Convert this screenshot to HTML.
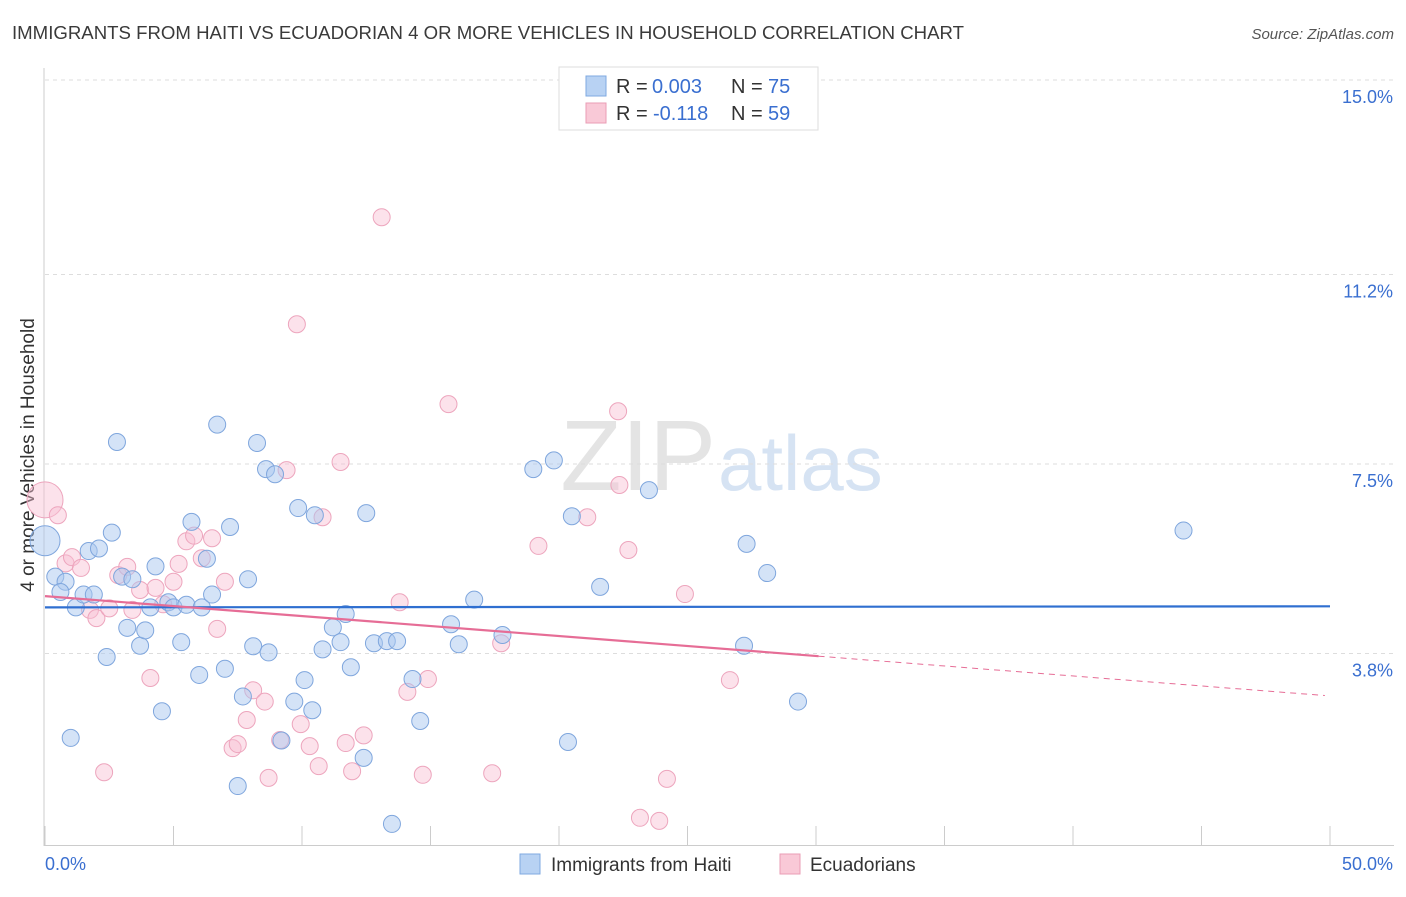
<!DOCTYPE html>
<html><head><meta charset="utf-8"><style>
body{margin:0;background:#fff;font-family:"Liberation Sans",sans-serif;}
svg text{font-family:"Liberation Sans",sans-serif;}
</style></head><body>
<svg id="c" width="1406" height="892" xmlns="http://www.w3.org/2000/svg">
<text x="12" y="39" font-size="18" textLength="952" lengthAdjust="spacingAndGlyphs" fill="#3a3a3a">IMMIGRANTS FROM HAITI VS ECUADORIAN 4 OR MORE VEHICLES IN HOUSEHOLD CORRELATION CHART</text>
<text x="1394" y="39" font-size="15" fill="#555" font-style="italic" text-anchor="end">Source: ZipAtlas.com</text>
<text x="716" y="490" font-size="100" fill="#e4e4e4" text-anchor="end" font-family="Liberation Serif">ZIP</text>
<text x="718" y="490" font-size="78" fill="#d6e3f3">atlas</text>
<g id="grid"></g>
<g id="axes"></g>
<text transform="translate(34,455) rotate(-90)" font-size="19" fill="#333" text-anchor="middle">4 or more Vehicles in Household</text>
<g id="pts"></g>
<g id="lines"></g>
<g>
<rect x="559" y="67" width="259" height="63" fill="#fff" stroke="#ddd"/>
<rect x="586" y="76" width="20" height="20" fill="#b8d2f3" stroke="#7fa9e0"/>
<rect x="586" y="103" width="20" height="20" fill="#f9c9d7" stroke="#ea9db5"/>
<text x="616" y="93" font-size="20" fill="#333">R =</text>
<text x="652" y="93" font-size="20" fill="#3a6fd0">0.003</text>
<text x="731" y="93" font-size="20" fill="#333">N =</text>
<text x="768" y="93" font-size="20" fill="#3a6fd0">75</text>
<text x="616" y="120" font-size="20" fill="#333">R =</text>
<text x="653" y="120" font-size="20" fill="#3a6fd0">-0.118</text>
<text x="731" y="120" font-size="20" fill="#333">N =</text>
<text x="768" y="120" font-size="20" fill="#3a6fd0">59</text>
</g>
<g>
<rect x="520" y="854" width="20" height="20" fill="#b8d2f3" stroke="#7fa9e0"/>
<text x="551" y="871" font-size="19" fill="#333">Immigrants from Haiti</text>
<rect x="780" y="854" width="20" height="20" fill="#f9c9d7" stroke="#ea9db5"/>
<text x="810" y="871" font-size="19" fill="#333">Ecuadorians</text>
</g>
</svg>
<script>
const yTicks=[15.0,11.2,7.5,3.8];
const yTickLabels=["15.0%","11.2%","7.5%","3.8%"];
const xTickLabels=["0.0%","50.0%"];
const haitiX=[0,0.4,0.8,0.6,1.2,1.0,1.5,1.9,1.7,2.1,2.4,2.6,2.8,3.0,3.4,3.2,3.7,3.9,4.1,4.3,4.55,4.8,5.0,5.3,5.5,5.7,6.0,6.1,6.3,6.5,6.7,7.0,7.2,7.5,7.7,7.9,8.1,8.25,8.6,8.7,8.95,9.2,9.7,9.85,10.1,10.4,10.5,10.8,11.2,11.5,11.7,11.9,12.4,12.5,12.8,13.3,13.5,13.7,14.3,14.6,15.8,16.1,16.7,17.8,19.0,19.8,20.35,20.5,21.6,23.5,27.2,27.3,28.1,29.3,44.3];
const haitiY=[6.0,5.3,5.2,5.0,4.7,2.15,4.95,4.95,5.8,5.85,3.73,6.16,7.93,5.3,5.25,4.3,3.95,4.25,4.7,5.5,2.67,4.8,4.7,4.02,4.75,6.37,3.38,4.7,5.65,4.95,8.27,3.5,6.27,1.21,2.96,5.25,3.94,7.91,7.4,3.82,7.3,2.1,2.86,6.64,3.28,2.69,6.5,3.88,4.31,4.02,4.57,3.53,1.76,6.54,4.0,4.04,0.47,4.04,3.3,2.48,4.37,3.98,4.85,4.16,7.4,7.57,2.07,6.48,5.1,6.99,3.95,5.94,5.37,2.86,6.2];
const ecuX=[0,0.5,0.8,1.05,1.4,1.75,2.0,2.3,2.5,2.85,3.2,3.4,3.7,4.1,4.3,4.6,5.0,5.2,5.5,5.8,6.1,6.5,6.7,7.0,7.3,7.5,7.85,8.1,8.55,8.7,9.15,9.4,9.8,9.95,10.3,10.65,10.8,11.5,11.7,11.95,12.4,13.1,13.8,14.1,14.7,14.9,15.7,17.4,17.75,19.2,21.1,22.3,22.35,22.7,23.15,23.9,24.2,24.9,26.65];
const ecuY=[6.8,6.5,5.56,5.68,5.47,4.65,4.49,1.48,4.68,5.33,5.49,4.65,5.04,3.32,5.08,4.76,5.2,5.55,5.99,6.1,5.66,6.05,4.28,5.2,1.95,2.03,2.5,3.08,2.86,1.37,2.11,7.38,10.23,2.42,1.99,1.6,6.46,7.54,2.05,1.5,2.2,12.32,4.8,3.05,1.43,3.3,8.67,1.46,4.0,5.9,6.46,8.53,7.09,5.82,0.59,0.53,1.35,4.96,3.28];
const trendHaiti=[4.70,4.72];
const trendEcu=[4.92,2.97];
const ecuXMax=30.1;
const NS='http://www.w3.org/2000/svg';
const X=v=>45+v/50*1285, Y=v=>848-v*51.2;
function mk(tag,attrs,parent){const e=document.createElementNS(NS,tag);for(const k in attrs)e.setAttribute(k,attrs[k]);parent.appendChild(e);return e;}
const grid=document.getElementById('grid'),axes=document.getElementById('axes'),pts=document.getElementById('pts'),lines=document.getElementById('lines');
yTicks.forEach((t,i)=>{
 const l=mk('line',{x1:45,x2:1394,y1:Y(t),y2:Y(t),stroke:'#ddd','stroke-dasharray':'4,4'},grid);
 
 
 const tx=mk('text',{x:1393,y:Y(t)+23,'font-size':18,fill:'#3a6fd0','text-anchor':'end'},grid);
 tx.textContent=yTickLabels[i];
 
 
});
mk('line',{x1:44,x2:44,y1:68,y2:846,stroke:'#ccc'},axes);
mk('line',{x1:44,x2:1394,y1:845.5,y2:845.5,stroke:'#ccc'},axes);
for(let i=0;i<=10;i++){const t=mk('line',{x1:X(i*5),x2:X(i*5),y1:826,y2:845,stroke:'#ccc'},axes);
 
 }
const xl0=mk('text',{x:45,y:870,'font-size':18,fill:'#3a6fd0'},axes);xl0.textContent=xTickLabels[0];


const xl1=mk('text',{x:1393,y:870,'font-size':18,fill:'#3a6fd0','text-anchor':'end'},axes);xl1.textContent=xTickLabels[1];


ecuX.forEach((v,i)=>{const c=mk('circle',{cx:X(v),cy:Y(ecuY[i]),r:i==0?18:8.5,fill:'rgba(249,190,210,0.45)',stroke:'#eda5bd','stroke-width':1},pts);
 
 });
haitiX.forEach((v,i)=>{const c=mk('circle',{cx:X(v),cy:Y(haitiY[i]),r:i==0?15:8.5,fill:'rgba(170,200,240,0.5)',stroke:'#7fa6dd','stroke-width':1},pts);
 
 });
const hl=mk('line',{x1:X(0),x2:X(50),y1:Y(trendHaiti[0]),y2:Y(trendHaiti[1]),stroke:'#2f6fd0','stroke-width':2.2},lines);


const ey=x=>trendEcu[0]+(trendEcu[1]-trendEcu[0])*x/50;
const el1=mk('line',{x1:X(0),x2:X(ecuXMax),y1:Y(ey(0)),y2:Y(ey(ecuXMax)),stroke:'#e66d96','stroke-width':2.2},lines);


const el2=mk('line',{x1:X(ecuXMax),x2:X(49.8),y1:Y(ey(ecuXMax)),y2:Y(ey(49.8)),stroke:'#e66d96','stroke-width':1,'stroke-dasharray':'6,5'},lines);


</script>
</body></html>
